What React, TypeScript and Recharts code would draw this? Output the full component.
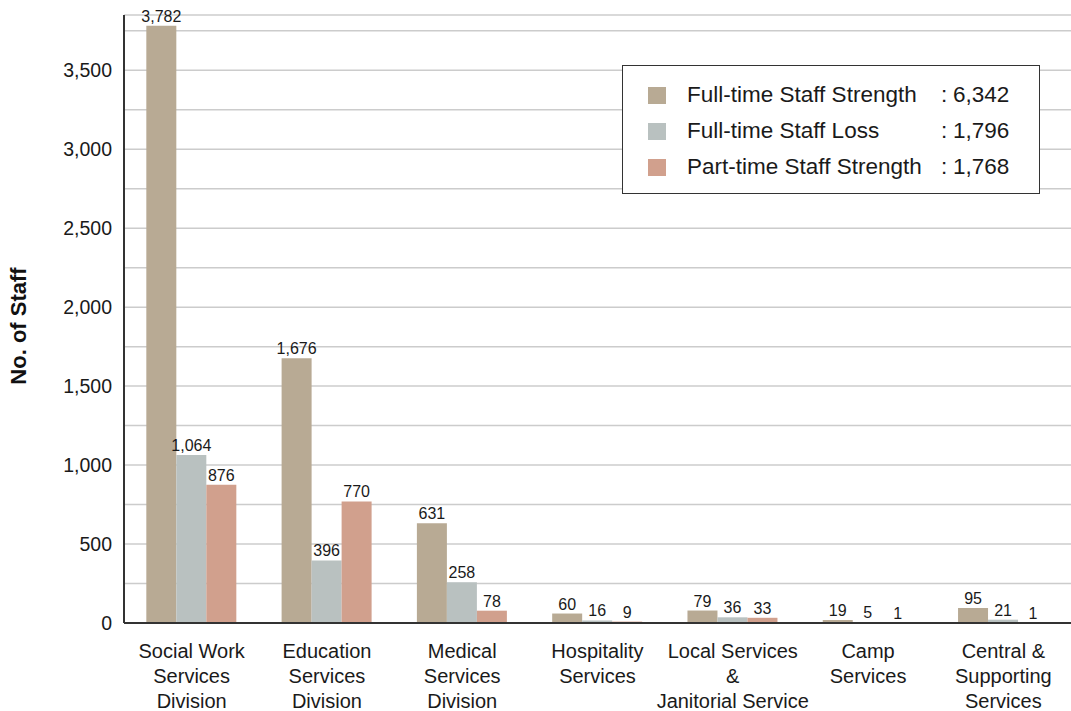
import React from "react";
import { BarChart, Bar, XAxis, YAxis, CartesianGrid, LabelList } from "recharts";

const CATEGORIES = [
  "Social Work\nServices\nDivision",
  "Education\nServices\nDivision",
  "Medical\nServices\nDivision",
  "Hospitality\nServices",
  "Local Services\n&\nJanitorial Service",
  "Camp\nServices",
  "Central &\nSupporting\nServices",
];
const FULL_TIME = [3782, 1676, 631, 60, 79, 19, 95];
const FULL_TIME_LOSS = [1064, 396, 258, 16, 36, 5, 21];
const PART_TIME = [876, 770, 78, 9, 33, 1, 1];
const Y_TICKS = [0, 250, 500, 750, 1000, 1250, 1500, 1750, 2000, 2250, 2500, 2750, 3000, 3250, 3500, 3750];

const SERIES = [
  { key: "fullTime", name: "Full-time Staff Strength", color: "#b8aa94", values: FULL_TIME },
  { key: "loss", name: "Full-time Staff Loss", color: "#b9c1c0", values: FULL_TIME_LOSS },
  { key: "partTime", name: "Part-time Staff Strength", color: "#d1a08d", values: PART_TIME },
];

const data = CATEGORIES.map((c, i) => ({
  name: c,
  fullTime: FULL_TIME[i],
  loss: FULL_TIME_LOSS[i],
  partTime: PART_TIME[i],
}));

const FONT = "'Liberation Sans', Arial, sans-serif";
const fmt = (v: number) => v.toLocaleString("en-US");

function CategoryTick({ x, y, payload }: any) {
  const lines = String(payload.value).split("\n");
  return (
    <text x={x} y={y} textAnchor="middle" fontSize={20} fill="#1a1a1a" fontFamily={FONT}>
      {lines.map((l, i) => (
        <tspan key={i} x={x} dy={i === 0 ? 27 : 25}>
          {l}
        </tspan>
      ))}
    </text>
  );
}

function YLabel({ viewBox }: any) {
  const cx = viewBox.x + 18;
  const cy = viewBox.y + viewBox.height / 2 + 7;
  return (
    <text
      x={cx}
      y={cy}
      transform={`rotate(-90, ${cx}, ${cy})`}
      textAnchor="middle"
      dominantBaseline="central"
      fontSize={22}
      fontWeight="bold"
      fill="#111"
      fontFamily={FONT}
    >
      No. of Staff
    </text>
  );
}

function LegendBox() {
  return (
    <div
      style={{
        position: "absolute",
        top: 65,
        left: 622,
        width: 418,
        height: 129,
        border: "1.5px solid #333",
        background: "#fff",
        fontFamily: FONT,
        fontSize: 22.5,
        color: "#1a1a1a",
        boxSizing: "border-box",
        paddingTop: 11,
      }}
    >
      {SERIES.map((s) => (
        <div key={s.key} style={{ display: "flex", alignItems: "center", height: 36 }}>
          <span style={{ width: 18, height: 17, background: s.color, marginLeft: 25, marginRight: 21, flex: "none" }} />
          <span style={{ width: 254, whiteSpace: "nowrap" }}>{s.name}</span>
          <span style={{ width: 12 }}>:</span>
          <span>{fmt(s.values.reduce((a, b) => a + b, 0))}</span>
        </div>
      ))}
    </div>
  );
}

export default function App() {
  return (
    <div style={{ width: 1071, height: 711, position: "relative" }}>
      <style>{`body{margin:0;}`}</style>
      <BarChart
        width={1071}
        height={711}
        data={data}
        margin={{ top: 15, right: 0, bottom: 0, left: 0 }}
        barCategoryGap="16.5%"
        barGap={0}
      >
        <CartesianGrid vertical={false} stroke="#cccccc" strokeWidth={1.5} />
        <XAxis
          dataKey="name"
          interval={0}
          height={88}
          tickLine={false}
          axisLine={{ stroke: "#333", strokeWidth: 2 }}
          tick={<CategoryTick />}
        />
        <YAxis
          width={124}
          domain={[0, 3850]}
          ticks={Y_TICKS}
          interval={0}
          tickLine={false}
          tickSize={10}
          axisLine={{ stroke: "#333", strokeWidth: 2 }}
          tickFormatter={(v: number) => (v % 500 === 0 ? fmt(v) : "")}
          tick={{ fontSize: 19.5, fill: "#1a1a1a", fontFamily: FONT }}
          label={<YLabel />}
        />
        {SERIES.map((s) => (
          <Bar key={s.key} dataKey={s.key} name={s.name} fill={s.color} isAnimationActive={false}>
            <LabelList
              dataKey={s.key}
              position="top"
              offset={4}
              formatter={(v: number) => fmt(v)}
              style={{ fontSize: 16, fill: "#1a1a1a", fontFamily: FONT }}
            />
          </Bar>
        ))}
      </BarChart>
      <LegendBox />
    </div>
  );
}
